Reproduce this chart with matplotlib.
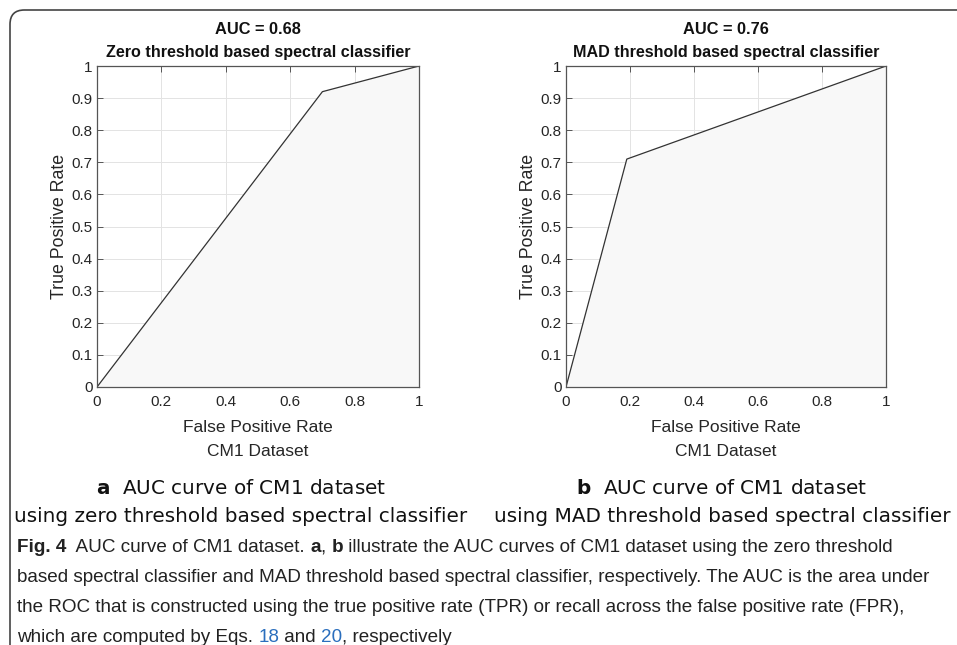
import matplotlib
matplotlib.use("Agg")
import matplotlib.pyplot as plt
from matplotlib.patches import FancyBboxPatch

# ---- data ----
fpr_a = [0.0, 0.70, 1.0]
tpr_a = [0.0, 0.92, 1.0]
fpr_b = [0.0, 0.19, 1.0]
tpr_b = [0.0, 0.71, 1.0]
auc_a = "AUC = 0.68"
auc_b = "AUC = 0.76"
title_a = "Zero threshold based spectral classifier"
title_b = "MAD threshold based spectral classifier"
xticks = [0, 0.2, 0.4, 0.6, 0.8, 1]
xticklabels = ["0", "0.2", "0.4", "0.6", "0.8", "1"]
yticks = [0, 0.1, 0.2, 0.3, 0.4, 0.5, 0.6, 0.7, 0.8, 0.9, 1]
yticklabels = ["0", "0.1", "0.2", "0.3", "0.4", "0.5", "0.6", "0.7", "0.8", "0.9", "1"]
xlabel = "False Positive Rate"
dataset = "CM1 Dataset"
ylabel = "True Positive Rate"
sub_a = ("a", "AUC curve of CM1 dataset", "using zero threshold based spectral classifier")
sub_b = ("b", "AUC curve of CM1 dataset", "using MAD threshold based spectral classifier")

W, H = 957, 645
fig = plt.figure(figsize=(W / 100, H / 100), dpi=100)
fig.patch.set_facecolor("white")

chart_font = ["Liberation Sans", "DejaVu Sans"]
cap_font = ["Liberation Sans"]

# border
border = FancyBboxPatch((10 / W, -40 / H), (W + 40) / W, (H - 10 + 40) / H,
                        boxstyle="round,pad=0,rounding_size=0.015",
                        transform=fig.transFigure, fill=False, edgecolor="#444444",
                        linewidth=1.2, mutation_aspect=W / H)
fig.patches.append(border)


def px(x, y):
    return x / W, 1 - y / H


def make_axes(left_px, width_px, fpr, tpr, auc, title, sub, cx):
    top_px, bottom_px = 66, 387
    ax = fig.add_axes([left_px / W, 1 - bottom_px / H, width_px / W, (bottom_px - top_px) / H])
    ax.fill_between(fpr, tpr, 0, color="#f8f8f8", zorder=1)
    ax.plot(fpr, tpr, color="#333333", lw=0.9, zorder=2)
    ax.set_xlim(0, 1)
    ax.set_ylim(0, 1)
    ax.set_xticks(xticks)
    ax.set_xticklabels(xticklabels, fontfamily=chart_font, fontsize=11, color="#262626")
    ax.set_yticks(yticks)
    ax.set_yticklabels(yticklabels, fontfamily=chart_font, fontsize=11, color="#262626")
    ax.grid(True, color="#e3e3e3", lw=0.7, zorder=0)
    ax.set_axisbelow(True)
    ax.tick_params(direction="in", length=4, width=0.7, color="#555555",
                   top=True, right=True)
    ax.tick_params(axis="x", pad=6)
    ax.tick_params(axis="y", pad=3)
    for s in ax.spines.values():
        s.set_color("#555555")
        s.set_linewidth(0.9)
    ax.set_xlabel(xlabel + "\n" + dataset, fontfamily=chart_font, fontsize=12.5,
                  color="#262626", labelpad=8, linespacing=1.75)
    ax.set_ylabel(ylabel, fontfamily=chart_font, fontsize=12.8, color="#262626", labelpad=3)
    axc = (left_px + width_px / 2)
    fig.text(*px(axc, 30), auc, ha="center", va="center", fontfamily=chart_font,
             fontsize=11.8, fontweight="bold", color="#111111")
    fig.text(*px(axc, 52), title, ha="center", va="center", fontfamily=chart_font,
             fontsize=11.6, fontweight="bold", color="#111111")
    # sub captions
    fig.text(*px(cx, 489), r"$\mathbf{" + sub[0] + r"}$" + "  " + sub[1], ha="center",
             va="center", fontfamily="DejaVu Sans", fontsize=14.4, color="#111111")
    fig.text(*px(cx, 516), sub[2], ha="center", va="center", fontfamily="DejaVu Sans",
             fontsize=14.4, color="#111111")
    return ax


ax1 = make_axes(97, 322, fpr_a, tpr_a, auc_a, title_a, sub_a, 241)
ax2 = make_axes(566, 320, fpr_b, tpr_b, auc_b, title_b, sub_b, 722)

# figure caption with mixed styles
caption_lines = [
    [("Fig. 4", "bold"), ("  AUC curve of CM1 dataset. ", "n"), ("a", "bold"), (", ", "n"),
     ("b", "bold"), (" illustrate the AUC curves of CM1 dataset using the zero threshold", "n")],
    [("based spectral classifier and MAD threshold based spectral classifier, respectively. The AUC is the area under", "n")],
    [("the ROC that is constructed using the true positive rate (TPR) or recall across the false positive rate (FPR),", "n")],
    [("which are computed by Eqs. ", "n"), ("18", "link"), (" and ", "n"), ("20", "link"), (", respectively", "n")],
]
fig.canvas.draw()
renderer = fig.canvas.get_renderer()
y0 = 548
for i, line in enumerate(caption_lines):
    x = 17
    y = y0 + i * 30
    for seg, style in line:
        t = fig.text(x / W, 1 - y / H, seg, ha="left", va="center", fontfamily=cap_font,
                     fontsize=13.6, color="#2a6ebd" if style == "link" else "#222222",
                     fontweight="bold" if style == "bold" else "normal")
        bb = t.get_window_extent(renderer=renderer)
        x += bb.width

fig.savefig("out.png", dpi=100)
